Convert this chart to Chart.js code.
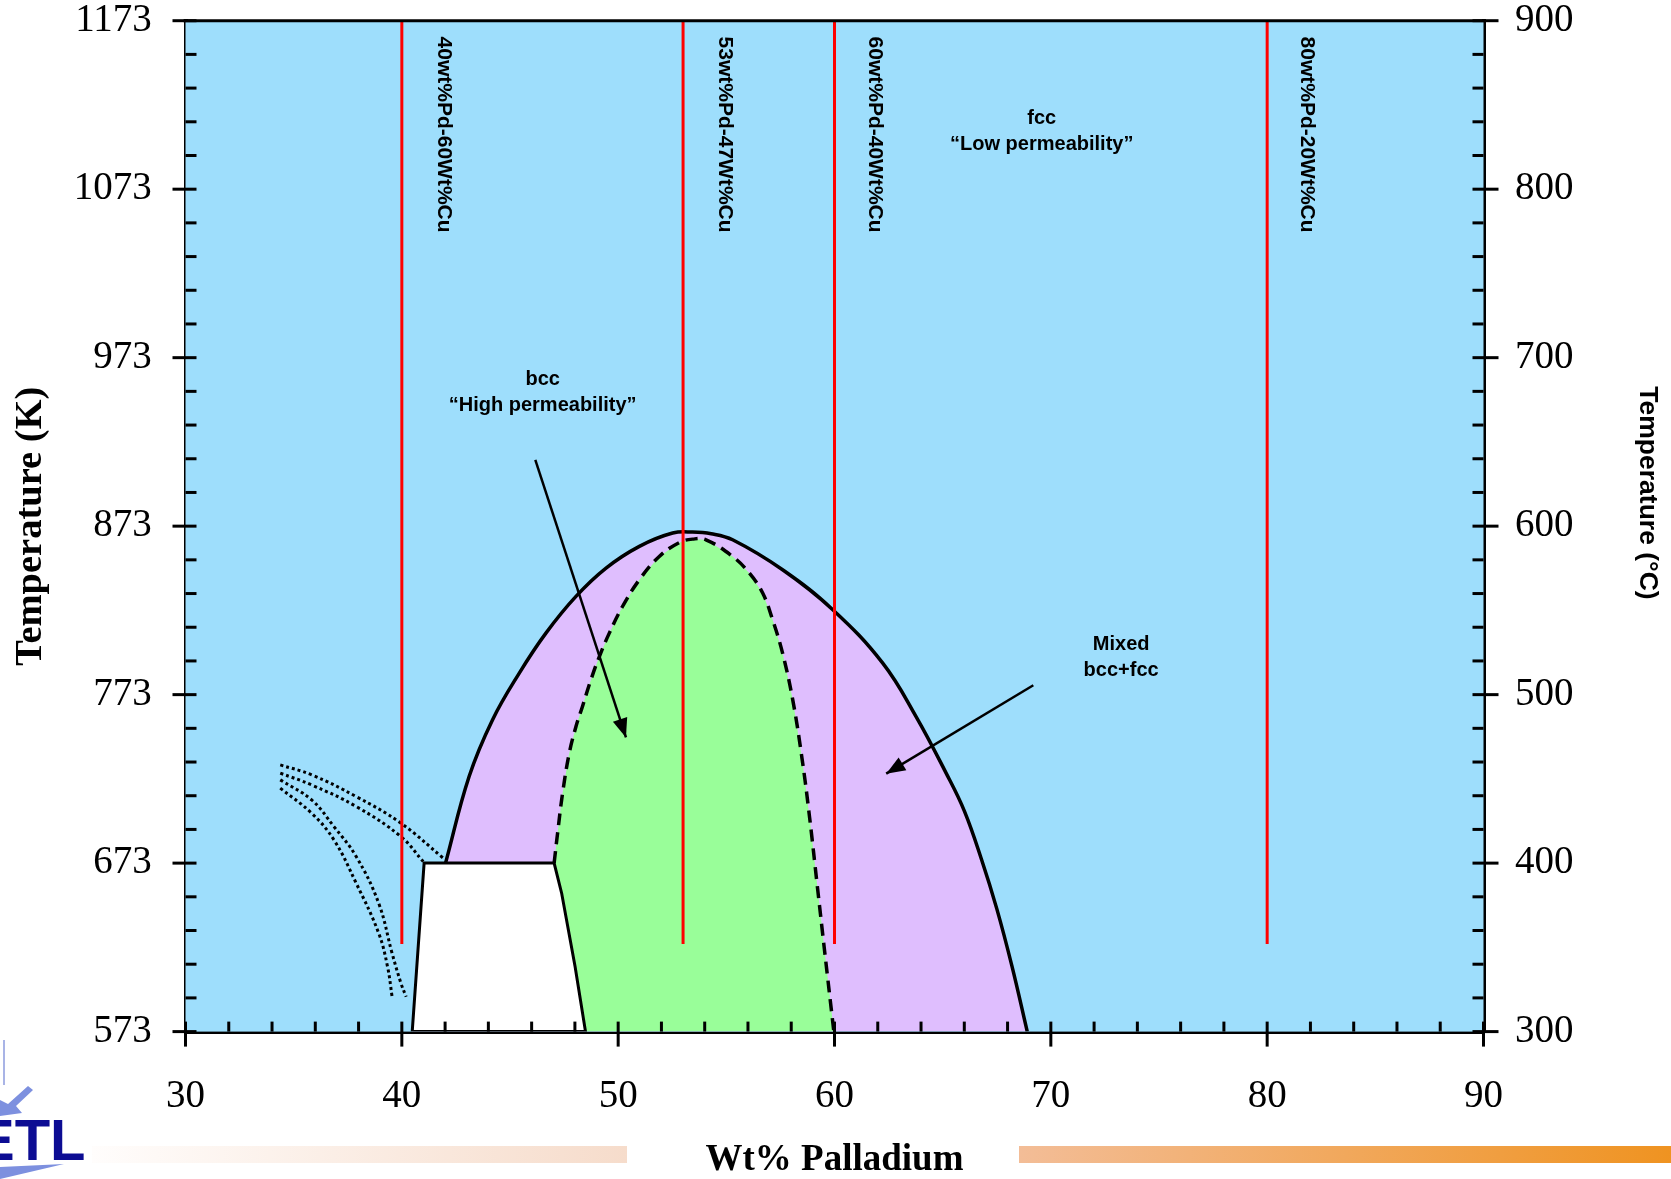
<!DOCTYPE html>
<html>
<head>
<meta charset="utf-8">
<title>Pd-Cu phase diagram</title>
<script src="https://cdn.jsdelivr.net/npm/chart.js@4.4.1/dist/chart.umd.min.js"></script>
<style>
  html, body { margin: 0; padding: 0; background: #fff; overflow: hidden; }
  #wrap { position: relative; width: 1671px; height: 1179px; }
  #chart { display: block; }
  .bar { position: absolute; top: 1146px; height: 17px; }
  #barLeft { left: 92px; width: 535px; background: linear-gradient(to right, #fffdfc, #f6dccb); }
  #barRight { left: 1019px; width: 652px; background: linear-gradient(to right, #f3bd97, #ef9321); }
  #logo { position: absolute; left: 0; top: 1040px; width: 110px; height: 139px; overflow: hidden; }
  #logo span {
    position: absolute; left: -24px; top: 66px;
    font: bold 58px 'Liberation Sans', Arial, sans-serif; color: #0c0c93; letter-spacing: 0px;
  }
</style>
</head>
<body>
<div id="wrap">
  <canvas id="chart" width="1671" height="1179"></canvas>
  <div class="bar" id="barLeft"></div>
  <div class="bar" id="barRight"></div>
  <div id="logo">
    <svg width="110" height="139" style="position:absolute;left:0;top:0">
      <polygon points="3,0 5,0 5,45 3,45" fill="#a9b4e6"/>
      <polygon points="33,50 16,66 22,73 0,76 0,60 8,64 28,46" fill="#7d90df"/>
      <polygon points="0,127 64,124 0,139" fill="#7d90df"/>
    </svg>
    <span>ETL</span>
  </div>
</div>
<script>
// Pd-Cu phase diagram
// x = wt% Pd, y = temperature in K

const pdTicks = [30, 40, 50, 60, 70, 80, 90];
const kelvinTicks = [573, 673, 773, 873, 973, 1073, 1173];
const celsiusTicks = [300, 400, 500, 600, 700, 800, 900];

// fcc / (bcc+fcc) boundary, solid line
const fccPd = [42.02, 43.11, 44.19, 45.43, 46.66, 48.05, 49.44, 50.98, 52.52, 53.44, 54.3, 55.29, 57.6, 59.92, 62.23, 63.77, 65.16, 66.0, 66.8, 67.5, 68.2, 68.91];
const fccK  = [673, 724.4, 758, 785.8, 809.5, 831.3, 848.1, 861, 868.9, 869.5, 868.5, 864.9, 847.1, 823.4, 791.7, 760, 726.4, 704, 675, 646, 612, 573];

// bcc / (bcc+fcc) boundary, dashed line
const bccPd = [47.04, 47.2, 47.43, 47.74, 48.05, 48.35, 48.74, 49.13, 49.59, 50.2, 50.98, 51.9, 52.83, 53.44, 54.06, 55.29, 56.06, 56.68, 57.14, 57.6, 58.07, 58.5, 58.85, 59.2, 59.55, 59.97];
const bccK  = [673, 690.8, 714.5, 738.3, 754.1, 766, 781.8, 795.6, 809.5, 825.3, 841.2, 855, 863.3, 865.3, 864.9, 855, 845.2, 833.3, 817.4, 797.6, 769.9, 735, 700, 660, 620, 573];

// white low temperature region
const lowPd = [40.48, 41.03, 47.04, 47.39, 48.01, 48.49, 40.48];
const lowK  = [573, 673, 673, 655, 611.5, 573, 573];

// dotted curves at the left
const dottedPd = [
  [34.38, 35.83, 37.89, 39.96, 41.92],
  [34.38, 35.83, 37.89, 39.96, 40.99],
  [34.38, 35.83, 36.86, 37.89, 38.93, 39.55, 39.96, 40.2],
  [34.38, 35.83, 36.86, 37.89, 38.93, 39.34, 39.55]
];
const dottedK = [
  [731.3, 725.4, 712.5, 696.7, 675.9],
  [726.4, 719.4, 706.6, 688.7, 673.9],
  [722.4, 710.5, 694.7, 676.9, 649.2, 619.5, 601.7, 593.7],
  [717.5, 702.6, 686.8, 661.1, 631.4, 611.5, 593.7]
];

// alloy compositions (red lines)
const alloyPd = [40, 53, 60, 80];
const alloyTopK = 1173;
const alloyBottomK = 625;
const alloyNames = ['40wt%Pd-60Wt%Cu', '53wt%Pd-47Wt%Cu', '60wt%Pd-40Wt%Cu', '80wt%Pd-20Wt%Cu'];
const alloyNamePd = [41.92, 54.94, 61.87, 81.85];
const alloyNameK = 1163.6;

// region notes
const regionText = [['bcc', '\u201CHigh permeability\u201D'], ['fcc', '\u201CLow permeability\u201D'], ['Mixed', 'bcc+fcc']];
const regionPd = [46.51, 69.58, 73.25];
const regionK = [960.1, 1114.7, 802.7];

// arrows: tail -> head
const arrowFromPd = [46.17, 69.19];
const arrowFromK = [912.4, 778.6];
const arrowToPd = [50.36, 62.39];
const arrowToK = [747.6, 726.1];

const serif = "'Liberation Serif', 'Times New Roman', serif";
const sans = "'Liberation Sans', Arial, sans-serif";

const toPts = (xs, ys) => xs.map((x, i) => ({ x: x, y: ys[i] }));

const datasets = [];

// filled regions (drawn first: higher order)
datasets.push({
  data: toPts(fccPd.concat([40.48, 41.03]), fccK.concat([573, 673])),
  showLine: true, borderWidth: 0, tension: 0,
  backgroundColor: '#dfbefe', fill: 'shape', order: 10
});
datasets.push({
  data: toPts(bccPd.concat([48.49]), bccK.concat([573])),
  showLine: true, borderWidth: 0, tension: 0,
  backgroundColor: '#99fe99', fill: 'shape', order: 9
});
datasets.push({
  data: toPts(lowPd, lowK),
  showLine: true, borderWidth: 3, borderColor: '#000', tension: 0,
  backgroundColor: '#ffffff', fill: 'shape', order: 8
});

dottedPd.forEach((xs, i) => {
  datasets.push({
    data: toPts(xs, dottedK[i]),
    showLine: true, borderWidth: 3, borderColor: '#000', borderDash: [3, 3],
    tension: 0.4, fill: false, order: 6
  });
});

datasets.push({
  data: toPts(fccPd, fccK),
  showLine: true, borderWidth: 3.5, borderColor: '#000', tension: 0.4, fill: false, order: 5
});
datasets.push({
  data: toPts(bccPd, bccK),
  showLine: true, borderWidth: 3.5, borderColor: '#000', borderDash: [12, 7],
  tension: 0.4, fill: false, order: 5
});

alloyPd.forEach(pd => {
  datasets.push({
    data: [{ x: pd, y: alloyTopK }, { x: pd, y: alloyBottomK }],
    showLine: true, borderWidth: 3, borderColor: '#ff0000', fill: false, order: 3
  });
});

arrowFromPd.forEach((pd, i) => {
  datasets.push({
    data: [{ x: pd, y: arrowFromK[i] }, { x: arrowToPd[i], y: arrowToK[i] }],
    showLine: true, borderWidth: 2.5, borderColor: '#000', fill: false, order: 2
  });
});

// blue plot background
const plotBackground = {
  id: 'plotBackground',
  beforeDatasetsDraw(chart) {
    const { ctx, chartArea: a } = chart;
    ctx.save();
    ctx.fillStyle = '#9edefc';
    ctx.fillRect(a.left, a.top, a.right - a.left, a.bottom - a.top);
    ctx.restore();
  }
};

// labels, arrow heads
const annotations = {
  id: 'annotations',
  afterDatasetsDraw(chart) {
    const { ctx, scales } = chart;
    const px = v => scales.x.getPixelForValue(v);
    const py = v => scales.y.getPixelForValue(v);
    ctx.save();

    // arrow heads
    ctx.fillStyle = '#000';
    arrowToPd.forEach((pd, i) => {
      const x1 = px(arrowFromPd[i]), y1 = py(arrowFromK[i]);
      const x2 = px(pd), y2 = py(arrowToK[i]);
      const ang = Math.atan2(y2 - y1, x2 - x1);
      const len = 19, half = 7.5;
      ctx.save();
      ctx.translate(x2, y2);
      ctx.rotate(ang);
      ctx.beginPath();
      ctx.moveTo(0, 0);
      ctx.lineTo(-len, -half);
      ctx.lineTo(-len, half);
      ctx.closePath();
      ctx.fill();
      ctx.restore();
    });

    // alloy names, vertical
    ctx.fillStyle = '#000';
    ctx.font = 'bold 21px ' + sans;
    ctx.textAlign = 'left';
    ctx.textBaseline = 'middle';
    alloyNames.forEach((name, i) => {
      ctx.save();
      ctx.translate(px(alloyNamePd[i]), py(alloyNameK));
      ctx.rotate(Math.PI / 2);
      ctx.fillText(name, 0, 0);
      ctx.restore();
    });

    // region notes
    ctx.font = 'bold 20px ' + sans;
    ctx.textAlign = 'center';
    regionText.forEach((lines, i) => {
      lines.forEach((t, j) => {
        ctx.fillText(t, px(regionPd[i]), py(regionK[i]) + j * 26);
      });
    });
    ctx.restore();
  }
};

// axis ticks (minor inside, major across), top frame line, right title
const frame = {
  id: 'frame',
  afterDraw(chart) {
    const { ctx, chartArea: a, scales } = chart;
    ctx.save();
    ctx.strokeStyle = '#000';
    ctx.lineWidth = 3;

    ctx.beginPath();
    ctx.moveTo(a.left - 2, a.top);
    ctx.lineTo(a.right + 2, a.top);
    ctx.stroke();

    for (let v = 30; v <= 90; v += 2) {
      const x = scales.x.getPixelForValue(v);
      const major = v % 10 === 0;
      ctx.beginPath();
      ctx.moveTo(x, a.bottom - 10);
      ctx.lineTo(x, a.bottom + (major ? 15 : 0));
      ctx.stroke();
    }
    for (let v = 573; v <= 1173; v += 20) {
      const y = scales.y.getPixelForValue(v);
      const major = (v - 573) % 100 === 0;
      ctx.beginPath();
      ctx.moveTo(a.left + 11, y);
      ctx.lineTo(a.left - (major ? 13 : 0), y);
      ctx.stroke();
    }
    for (let v = 300; v <= 900; v += 20) {
      const y = scales.y2.getPixelForValue(v);
      const major = v % 100 === 0;
      ctx.beginPath();
      ctx.moveTo(a.right - 11, y);
      ctx.lineTo(a.right + (major ? 15 : 0), y);
      ctx.stroke();
    }

    ctx.fillStyle = '#000';
    ctx.font = 'bold 26.5px ' + sans;
    ctx.textAlign = 'center';
    ctx.textBaseline = 'middle';
    ctx.translate(a.right + 164, 493);
    ctx.rotate(Math.PI / 2);
    ctx.fillText('Temperature (\u00B0C)', 0, 0);
    ctx.restore();
  }
};

const tickFont = { family: serif, size: 39 };
const plainLabel = v => String(v);

new Chart(document.getElementById('chart'), {
  type: 'scatter',
  data: { datasets: datasets },
  options: {
    responsive: false,
    animation: false,
    events: [],
    layout: { autoPadding: false, padding: { top: 20.7, left: 0, right: 0, bottom: 0 } },
    elements: { point: { radius: 0, hoverRadius: 0 } },
    plugins: {
      legend: { display: false },
      tooltip: { enabled: false }
    },
    scales: {
      x: {
        type: 'linear', position: 'bottom', min: 30, max: 90,
        afterBuildTicks: s => { s.ticks = pdTicks.map(v => ({ value: v })); },
        ticks: { font: tickFont, color: '#000', padding: 42, maxRotation: 0, callback: plainLabel },
        grid: { display: false, drawTicks: false },
        border: { display: true, width: 4, color: '#000' },
        title: {
          display: true, text: 'Wt% Palladium', color: '#000',
          font: { family: serif, size: 37, weight: 'bold', lineHeight: 1 },
          padding: { top: 0, bottom: 0 }
        },
        afterFit: s => { s.height = 147.4; s.paddingLeft = 0; s.paddingRight = 0; }
      },
      y: {
        type: 'linear', position: 'left', min: 573, max: 1173,
        afterBuildTicks: s => { s.ticks = kelvinTicks.map(v => ({ value: v })); },
        ticks: { font: tickFont, color: '#000', padding: 33.8, callback: plainLabel },
        grid: { display: false, drawTicks: false },
        border: { display: true, width: 4, color: '#000' },
        title: {
          display: true, text: 'Temperature (K)', color: '#000',
          font: { family: serif, size: 38.5, weight: 'bold', lineHeight: 1 },
          padding: { top: 12, bottom: 0 }
        },
        afterFit: s => { s.width = 185.5; s.paddingTop = 0; s.paddingBottom = 0; }
      },
      y2: {
        type: 'linear', position: 'right', min: 300, max: 900,
        afterBuildTicks: s => { s.ticks = celsiusTicks.map(v => ({ value: v })); },
        ticks: { font: tickFont, color: '#000', padding: 31.5, callback: plainLabel },
        grid: { display: false, drawTicks: false },
        border: { display: true, width: 4, color: '#000' },
        afterFit: s => { s.width = 187.5; s.paddingTop = 0; s.paddingBottom = 0; }
      }
    }
  },
  plugins: [plotBackground, annotations, frame]
});
</script>
</body>
</html>
